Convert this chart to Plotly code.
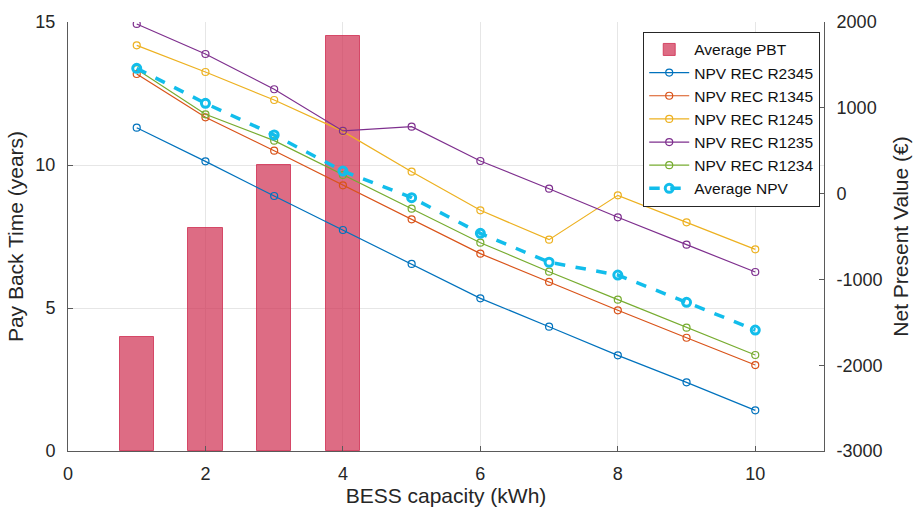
import plotly.graph_objects as go

capacity = [1, 2, 3, 4, 5, 6, 7, 8, 9, 10]
pbt_capacity = [1, 2, 3, 4]
avg_pbt = [4.0, 7.8, 10.0, 14.5]

npv_r2345 = [768, 376, -28, -424, -820, -1221, -1551, -1885, -2200, -2526]
npv_r1345 = [1394, 889, 500, 97, -300, -700, -1030, -1360, -1680, -1998]
npv_r1245 = [1728, 1417, 1091, 725, 255, -195, -537, -20, -335, -650]
npv_r1235 = [1977, 1627, 1216, 730, 780, 380, 57, -276, -595, -914]
npv_r1234 = [1450, 924, 617, 217, -176, -572, -910, -1236, -1563, -1881]
npv_avg = [1460, 1052, 683, 263, -47, -463, -800, -949, -1267, -1590]

x_ticks = [0, 2, 4, 6, 8, 10]
pbt_ticks = [0, 5, 10, 15]
npv_ticks = [-3000, -2000, -1000, 0, 1000, 2000]
npv_ticktext = ["-3000", "-2000", "-1000", "0", "1000", "2000"]

series = [
    ("NPV REC R2345", npv_r2345, "#0072BD"),
    ("NPV REC R1345", npv_r1345, "#D95319"),
    ("NPV REC R1245", npv_r1245, "#EDB120"),
    ("NPV REC R1235", npv_r1235, "#7E2F8E"),
    ("NPV REC R1234", npv_r1234, "#77AC30"),
]

FONT = "Liberation Sans, Arial, Helvetica, sans-serif"
AXC = "#5a5a5a"
fig = go.Figure()
fig.add_trace(go.Bar(
    x=pbt_capacity, y=avg_pbt, name="Average PBT", width=0.5,
    marker=dict(color="rgba(206,45,80,0.7)", line=dict(color="rgba(206,45,80,0.8)", width=1)),
    yaxis="y",
))
for name, vals, col in series:
    fig.add_trace(go.Scatter(
        x=capacity, y=vals, name=name, mode="lines+markers", yaxis="y2",
        line=dict(color=col, width=1.2),
        marker=dict(symbol="circle-open", size=7, color=col, line=dict(width=1.2)),
    ))
fig.add_trace(go.Scatter(
    x=capacity, y=npv_avg, name="Average NPV", mode="lines+markers", yaxis="y2",
    line=dict(color="#12BDEB", width=3.5, dash="dash"),
    marker=dict(symbol="circle-open", size=8, color="#12BDEB", line=dict(width=3)),
))

fig.update_layout(
    width=917, height=507,
    margin=dict(l=68, r=93, t=22, b=56, autoexpand=False),
    plot_bgcolor="white", paper_bgcolor="white",
    font=dict(family=FONT, size=18, color="#262626"),
    showlegend=True,
    legend=dict(x=0.995, y=0.977, xanchor="right", yanchor="top",
                bgcolor="white", bordercolor="#262626", borderwidth=1,
                font=dict(size=15.5, color="#111111"), tracegroupgap=0,
                itemwidth=40),
    xaxis=dict(range=[0, 11], tickvals=x_ticks, ticks="inside", ticklen=5,
               ticklabelstandoff=6, automargin=False,
               showgrid=True, gridcolor="#E6E6E6", zeroline=False,
               showline=True, linecolor=AXC, linewidth=1, tickcolor=AXC,
               title=dict(text="BESS capacity (kWh)", font=dict(size=21), standoff=4)),
    yaxis=dict(range=[0, 15], tickvals=pbt_ticks, ticks="inside", ticklen=5,
               ticklabelstandoff=8, automargin=False,
               showgrid=True, gridcolor="#E6E6E6", zeroline=False,
               showline=True, linecolor=AXC, linewidth=1, tickcolor=AXC,
               title=dict(text="Pay Back Time (years)", font=dict(size=21), standoff=6)),
    yaxis2=dict(range=[-3000, 2000], tickvals=npv_ticks, ticktext=npv_ticktext,
                overlaying="y", side="right", ticks="inside", ticklen=5,
                ticklabelstandoff=8, automargin=False,
                showgrid=False, zeroline=False,
                showline=True, linecolor=AXC, linewidth=1, tickcolor=AXC,
                title=dict(text="Net Present Value (€)", font=dict(size=21), standoff=11)),
    bargap=0,
)

fig.write_html("out.html")
